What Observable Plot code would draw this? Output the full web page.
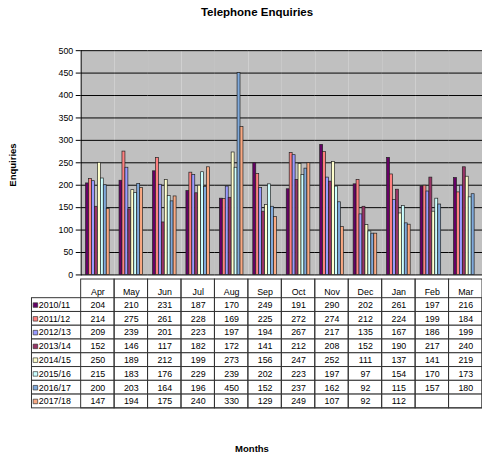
<!DOCTYPE html>
<html>
<head>
<meta charset="utf-8">
<script src="https://cdn.jsdelivr.net/npm/d3@7"></script>
<script src="https://cdn.jsdelivr.net/npm/@observablehq/plot@0.6"></script>
<style>
  html, body { margin: 0; padding: 0; background: #fff; }
  body { width: 482px; height: 456px; overflow: hidden; position: relative; font-family: Arial, "Liberation Sans", sans-serif; }
  .layer { position: absolute; left: 0; }
  .title { position: absolute; top: 6px; left: 257px; transform: translateX(-50%); font-weight: bold; font-size: 11.5px; white-space: nowrap; }
  .xtitle { position: absolute; top: 443px; left: 252px; transform: translateX(-50%); font-weight: bold; font-size: 9.5px; white-space: nowrap; }
  .ytitle { position: absolute; top: 165px; left: 12px; transform: translate(-50%, -50%) rotate(-90deg); font-weight: bold; font-size: 9.5px; white-space: nowrap; }
</style>
</head>
<body>
<div class="title">Telephone Enquiries</div>
<div id="bars" class="layer" style="top:0"></div>
<div id="table" class="layer" style="top:279px"></div>
<div class="ytitle">Enquiries</div>
<div class="xtitle">Months</div>
<script>
// Financial-year months, April to March
const months = ["Apr", "May", "Jun", "Jul", "Aug", "Sep", "Oct", "Nov", "Dec", "Jan", "Feb", "Mar"];
const series = ["2010/11", "2011/12", "2012/13", "2013/14", "2014/15", "2015/16", "2016/17", "2017/18"];
const colors = ["#660066", "#FF8080", "#9999FF", "#993366", "#FFFFCC", "#CCFFFF", "#7FA9DB", "#F9A983"];

// Monthly enquiry counts per year
const y2010 = [204, 210, 231, 187, 170, 249, 191, 290, 202, 261, 197, 216];
const y2011 = [214, 275, 261, 228, 169, 225, 272, 274, 212, 224, 199, 184];
const y2012 = [209, 239, 201, 223, 197, 194, 267, 217, 135, 167, 186, 199];
const y2013 = [152, 146, 117, 182, 172, 141, 212, 208, 152, 190, 217, 240];
const y2014 = [250, 189, 212, 199, 273, 156, 247, 252, 111, 137, 141, 219];
const y2015 = [215, 183, 176, 229, 239, 202, 223, 197, 97, 154, 170, 173];
const y2016 = [200, 203, 164, 196, 450, 152, 237, 162, 92, 115, 157, 180];
const y2017 = [147, 194, 175, 240, 330, 129, 249, 107, 92, 112, null, null];

const yTicks = [0, 50, 100, 150, 200, 250, 300, 350, 400, 450, 500];

const valuesBySeries = [y2010, y2011, y2012, y2013, y2014, y2015, y2016, y2017];
const rows = [];
series.forEach((s, i) => months.forEach((m, j) => {
  const v = valuesBySeries[i][j];
  if (v != null) rows.push({series: s, month: m, value: v});
}));

const font = {background: "transparent", fontFamily: "Arial, 'Liberation Sans', sans-serif", fontSize: "9px", overflow: "visible"};
const W = 490;

// Clustered columns, one facet per month
const bars = Plot.plot({
  width: W, height: 280,
  marginTop: 51, marginBottom: 1, marginLeft: 81, marginRight: 0,
  style: font,
  fx: {domain: months, padding: 0, axis: null},
  x: {domain: series, paddingInner: 0, paddingOuter: 0.7, axis: null},
  y: {domain: [0, 500]},
  color: {domain: series, range: colors},
  marks: [
    Plot.frame({fill: "#C0C0C0", stroke: null}),
    Plot.gridY(yTicks, {stroke: "#000", strokeOpacity: 1, strokeWidth: 1}),
    Plot.barY(rows, {fx: "month", x: "series", y: "value", fill: "series", stroke: "#222", strokeWidth: 0.7}),
    Plot.axisY(yTicks, {label: null, tickSize: 5, tickPadding: 3, tickFormat: d => d, stroke: "#000"}),
    Plot.frame({anchor: "left", stroke: "#000", facetAnchor: "left"})
  ]
});
document.getElementById("bars").appendChild(bars);

// Data table under the columns
const table = Plot.plot({
  width: W, height: 133,
  marginTop: 19, marginBottom: 2, marginLeft: 81, marginRight: 0,
  style: font,
  x: {domain: months, padding: 0, axis: null},
  y: {domain: series, padding: 0, axis: null},
  color: {domain: series, range: colors},
  marks: [
    Plot.cell(series, {y: d => d, fill: "#fff", stroke: "#333", strokeWidth: 1, insetLeft: -49}),
    Plot.cell(months, {x: d => d, fill: null, stroke: "#333", strokeWidth: 1, insetTop: -19}),
    Plot.text(months, {x: d => d, frameAnchor: "top", dy: -9.5, text: d => d, fill: "#000"}),
    Plot.text(rows, {x: "month", y: "series", text: "value", fill: "#000"}),
    Plot.dot(series, {y: d => d, frameAnchor: "left", dx: -45.5, symbol: "square", r: 2.6, fill: d => d, stroke: "#333", strokeWidth: 0.7}),
    Plot.text(series, {y: d => d, frameAnchor: "left", dx: -42, textAnchor: "start", text: d => d, fill: "#000"})
  ]
});
document.getElementById("table").appendChild(table);
</script>
</body>
</html>
